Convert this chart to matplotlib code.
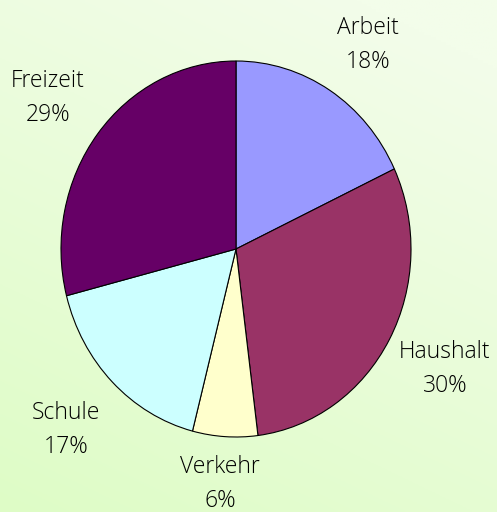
import matplotlib
matplotlib.use("Agg")
import matplotlib.pyplot as plt
import numpy as np

categories = ["Arbeit", "Haushalt", "Verkehr", "Schule", "Freizeit"]
shares = [18, 30, 6, 17, 29]
colors = ["#9999FF", "#993366", "#FFFFCC", "#CCFFFF", "#660066"]

W, H = 497, 512
fig = plt.figure(figsize=(W / 100, H / 100), dpi=100)

# background: diagonal light-green gradient (light top-right, greener bottom-left)
bg = fig.add_axes([0, 0, 1, 1], zorder=-10)
gx, gy = np.meshgrid(np.linspace(0, 1, 200), np.linspace(0, 1, 200))
t = np.clip(0.75 * gy + 0.35 * (1 - gx) - 0.1, 0, 1)  # row 0 = top
c_light = np.array([243, 253, 234]) / 255
c_dark = np.array([222, 252, 198]) / 255
img = c_light[None, None, :] * (1 - t[..., None]) + c_dark[None, None, :] * t[..., None]
bg.imshow(img, aspect="auto", extent=[0, 1, 0, 1])
bg.axis("off")

# pie (slightly elliptical, as in the original)
cx, cy, rx, ry = 236, 249, 175, 188
ax = fig.add_axes([(cx - rx) / W, (H - cy - ry) / H, 2 * rx / W, 2 * ry / H])
ax.pie(shares, colors=colors, startangle=90, counterclock=False,
       wedgeprops=dict(edgecolor="black", linewidth=0.8))
ax.set_aspect("auto")
ax.set_xlim(-1, 1)
ax.set_ylim(-1, 1)
ax.axis("off")

# label placement in pixels (center of the two-line label)
label_pos = [(368, 45), (445, 369), (220, 484), (66, 430), (48, 98)]
for name, v, (px, py) in zip(categories, shares, label_pos):
    fig.text(px / W, 1 - py / H, f"{name}\n{v}%", ha="center", va="center",
             fontsize=16.5, family="Open Sans", fontweight="light",
             color="black", linespacing=1.55)

fig.savefig("out.png", dpi=100)
